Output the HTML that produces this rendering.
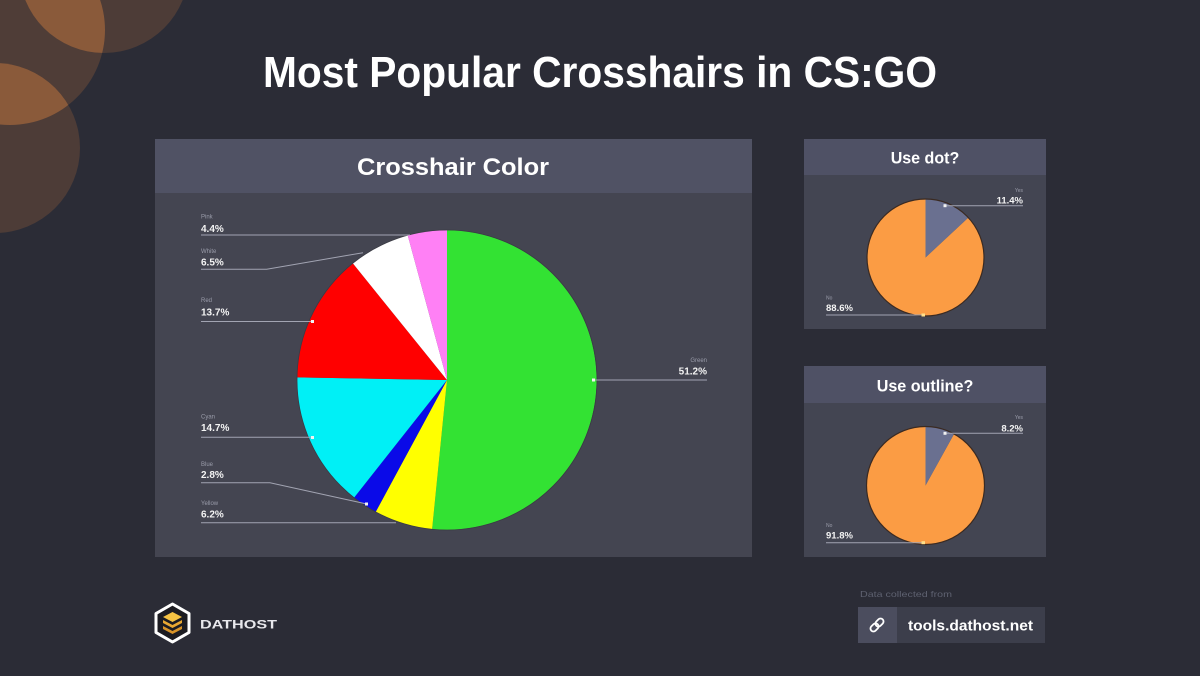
<!DOCTYPE html>
<html><head><meta charset="utf-8"><style>
html,body{margin:0;padding:0;background:#2b2c36;}
svg{display:block;}
text{font-family:"Liberation Sans",sans-serif;}
</style></head><body>
<svg width="1200" height="676" viewBox="0 0 1200 676" xmlns="http://www.w3.org/2000/svg">
<defs>
<clipPath id="cA"><circle cx="104" cy="-32" r="85"/></clipPath>
<clipPath id="cC"><circle cx="-5" cy="148" r="85"/></clipPath>
</defs>
<rect width="1200" height="676" fill="#2b2c36"/>
<!-- decorative circles -->
<circle cx="104" cy="-32" r="85" fill="#4d3c37"/>
<circle cx="10" cy="30" r="95" fill="#4f3d37"/>
<circle cx="-5" cy="148" r="85" fill="#4d3c37"/>
<circle cx="10" cy="30" r="95" fill="#8a5a3a" clip-path="url(#cA)"/>
<circle cx="10" cy="30" r="95" fill="#8a5a3a" clip-path="url(#cC)"/>

<!-- title -->
<text x="263" y="87" font-size="44" font-weight="bold" fill="#ffffff" textLength="674" lengthAdjust="spacingAndGlyphs">Most Popular Crosshairs in CS:GO</text>

<!-- main panel -->
<rect x="155" y="139" width="597" height="418" fill="#444551"/>
<rect x="155" y="139" width="597" height="54" fill="#505264"/>
<text x="357" y="175" font-size="24" font-weight="bold" fill="#ffffff" textLength="192" lengthAdjust="spacingAndGlyphs">Crosshair Color</text>

<!-- main pie -->
<g>
<path d="M447,380 L447,230 A150,150 0 1 1 432.1,529.3 Z" fill="#33e233"/>
<path d="M447,380 L432.1,529.3 A150,150 0 0 1 375.7,511.9 Z" fill="#ffff00"/>
<path d="M447,380 L375.7,511.9 A150,150 0 0 1 354.0,497.7 Z" fill="#0a0ae8"/>
<path d="M447,380 L354.0,497.7 A150,150 0 0 1 297.0,377.4 Z" fill="#00f0f6"/>
<path d="M447,380 L297.0,377.4 A150,150 0 0 1 352.8,263.3 Z" fill="#ff0000"/>
<path d="M447,380 L352.8,263.3 A150,150 0 0 1 407.7,235.2 Z" fill="#ffffff"/>
<path d="M447,380 L407.7,235.2 A150,150 0 0 1 447,230 Z" fill="#ff80f5"/>
<circle cx="447" cy="380" r="150" fill="none" stroke="#3a3b44" stroke-width="0.8"/>
</g>

<!-- main leader lines -->
<g stroke="#a2a4b2" stroke-width="1" fill="none">
<line x1="201" y1="235" x2="410" y2="235"/>
<polyline points="201,269.3 266.7,269.3 363,252.7"/>
<line x1="201" y1="321.5" x2="312" y2="321.5"/>
<line x1="201" y1="437.3" x2="313" y2="437.3"/>
<polyline points="201,482.7 270,482.7 366.7,504"/>
<line x1="201" y1="522.7" x2="396" y2="522.7"/>
<line x1="593" y1="380" x2="707" y2="380"/>
</g>
<g fill="#f2f2f2">
<rect x="311" y="320" width="3" height="3"/>
<rect x="311" y="436" width="3" height="3"/>
<rect x="365" y="502.5" width="3" height="3"/>
<rect x="592" y="378.5" width="3" height="3"/>
</g>
<g font-size="6" fill="#9a9caa">
<text x="201" y="218.5">Pink</text>
<text x="201" y="253">White</text>
<text x="201" y="302">Red</text>
<text x="201" y="418.5">Cyan</text>
<text x="201" y="466">Blue</text>
<text x="201" y="505">Yellow</text>
<text x="707" y="362" text-anchor="end">Green</text>
</g>
<g font-size="10" font-weight="bold" fill="#f4f4f4">
<text x="201" y="232">4.4%</text>
<text x="201" y="265.5">6.5%</text>
<text x="201" y="315.5">13.7%</text>
<text x="201" y="431">14.7%</text>
<text x="201" y="478">2.8%</text>
<text x="201" y="517.5">6.2%</text>
<text x="707" y="374.5" text-anchor="end">51.2%</text>
</g>

<!-- Use dot panel -->
<rect x="804" y="139" width="242" height="190" fill="#434552"/>
<rect x="804" y="139" width="242" height="36" fill="#4f5165"/>
<text x="890.7" y="163.3" font-size="17" font-weight="bold" fill="#ffffff" textLength="68.6" lengthAdjust="spacingAndGlyphs">Use dot?</text>
<path d="M925.5,257.5 L968.3,217.6 A58.5,58.5 0 1 1 925.5,199 Z" fill="#fb9c44"/>
<path d="M925.5,257.5 L925.5,199 A58.5,58.5 0 0 1 968.3,217.6 Z" fill="#6a7090"/>
<circle cx="925.5" cy="257.5" r="58.5" fill="none" stroke="#3a2a22" stroke-width="1.2"/>
<g stroke="#a2a4b2" stroke-width="1">
<line x1="945" y1="205.7" x2="1023" y2="205.7"/>
<line x1="826" y1="315" x2="923" y2="315"/>
</g>
<rect x="943.5" y="204.2" width="3" height="3" fill="#f2f2f2"/>
<rect x="921.5" y="313.5" width="3.5" height="3" fill="#ffe08a"/>
<text x="1023" y="192" font-size="5" fill="#9a9caa" text-anchor="end">Yes</text>
<text x="1023" y="203.5" font-size="9.5" font-weight="bold" fill="#f4f4f4" text-anchor="end">11.4%</text>
<text x="826" y="299.5" font-size="5" fill="#9a9caa">No</text>
<text x="826" y="311" font-size="9.5" font-weight="bold" fill="#f4f4f4">88.6%</text>

<!-- Use outline panel -->
<rect x="804" y="366" width="242" height="191" fill="#434552"/>
<rect x="804" y="366" width="242" height="37" fill="#4f5165"/>
<text x="876.7" y="391.7" font-size="17" font-weight="bold" fill="#ffffff" textLength="96.6" lengthAdjust="spacingAndGlyphs">Use outline?</text>
<path d="M925.5,485.5 L954.1,433.9 A59,59 0 1 1 925.5,426.5 Z" fill="#fb9c44"/>
<path d="M925.5,485.5 L925.5,426.5 A59,59 0 0 1 954.1,433.9 Z" fill="#6a7090"/>
<circle cx="925.5" cy="485.5" r="59" fill="none" stroke="#3a2a22" stroke-width="1.2"/>
<g stroke="#a2a4b2" stroke-width="1">
<line x1="945" y1="433.3" x2="1023" y2="433.3"/>
<line x1="826" y1="542.7" x2="923" y2="542.7"/>
</g>
<rect x="943.5" y="431.8" width="3" height="3" fill="#f2f2f2"/>
<rect x="921.5" y="541.2" width="3.5" height="3" fill="#ffe08a"/>
<text x="1023" y="419" font-size="5" fill="#9a9caa" text-anchor="end">Yes</text>
<text x="1023" y="431.5" font-size="9.5" font-weight="bold" fill="#f4f4f4" text-anchor="end">8.2%</text>
<text x="826" y="527" font-size="5" fill="#9a9caa">No</text>
<text x="826" y="538.5" font-size="9.5" font-weight="bold" fill="#f4f4f4">91.8%</text>

<!-- DATHOST logo -->
<g>
<polygon points="172.5,604 189,613.5 189,632.5 172.5,642 156,632.5 156,613.5" fill="#1c1c22" stroke="#ffffff" stroke-width="3" stroke-linejoin="round"/>
<polygon points="172.5,612 182,617 172.5,622 163,617" fill="#f5c243"/>
<polygon points="163,620 172.5,625 182,620 182,623 172.5,628 163,623" fill="#e9a832"/>
<polygon points="163,626 172.5,631 182,626 182,629 172.5,634 163,629" fill="#d99429"/>
</g>
<text x="200" y="628.5" font-size="11.5" font-weight="bold" fill="#e8e8ec" textLength="77" lengthAdjust="spacingAndGlyphs">DATHOST</text>

<!-- data source -->
<text x="860" y="597" font-size="8.5" fill="#5e6170" textLength="92" lengthAdjust="spacingAndGlyphs">Data collected from</text>
<rect x="858" y="607" width="187" height="36" fill="#3c3e4b"/>
<rect x="858" y="607" width="39" height="36" fill="#4b4d5e"/>
<g transform="translate(877,625) rotate(-45)" fill="none" stroke="#ffffff" stroke-width="1.8">
<rect x="-8" y="-3" width="9" height="6" rx="3"/>
<rect x="-1" y="-3" width="9" height="6" rx="3"/>
</g>
<text x="908" y="630.5" font-size="15" font-weight="bold" fill="#ffffff" textLength="125" lengthAdjust="spacingAndGlyphs">tools.dathost.net</text>
</svg>
</body></html>
